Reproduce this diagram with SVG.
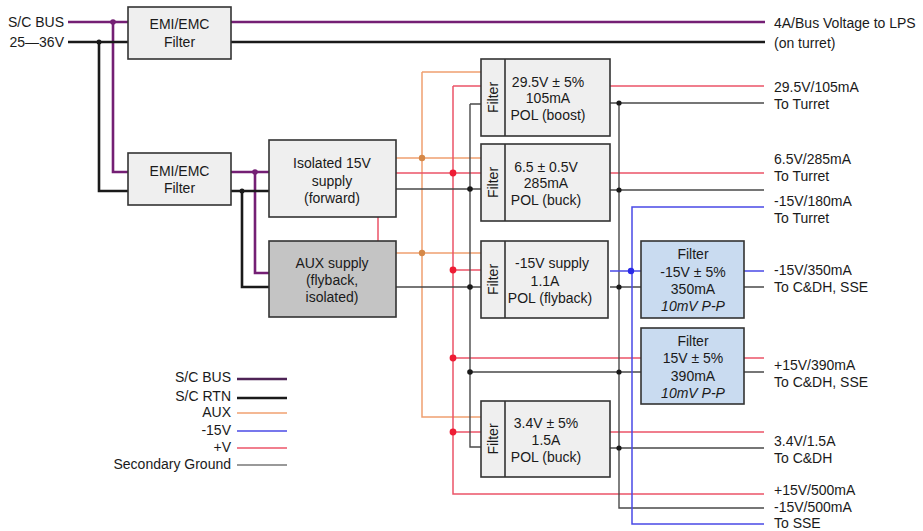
<svg xmlns="http://www.w3.org/2000/svg" width="923" height="531" viewBox="0 0 923 531">
<style>
text{font-family:"Liberation Sans",Arial,sans-serif;font-size:14px;fill:#1a1a1a}
.m{text-anchor:middle}
.e{text-anchor:end}
.it{font-style:italic}
.box{fill:#efefef;stroke:#333;stroke-width:1.6}
.aux{fill:#c4c4c4;stroke:#333;stroke-width:1.6}
.blue{fill:#c9dbf0;stroke:#333;stroke-width:1.6}
.bus{stroke:#741f74;stroke-width:2.6;fill:none}
.rtn{stroke:#1a1a1a;stroke-width:2.6;fill:none}
.auxw{stroke:#f0a070;stroke-width:1.5;fill:none}
.pos{stroke:#ec5468;stroke-width:1.5;fill:none}
.neg{stroke:#4a4ae6;stroke-width:1.5;fill:none}
.gnd{stroke:#4a4a4a;stroke-width:1.4;fill:none}
.dbus{fill:#741f74}.drtn{fill:#1a1a1a}.daux{fill:#d58848}.dpos{fill:#ee1c34}.dneg{fill:#2a2ae8}
</style>
<g id="connectors">
<path class="bus" d="M68 22H128M231 22H765M113 22V172H128M231 172H269M255 172V273H269"/>
<path class="rtn" d="M68 42H128M231 42H765M99 42V191H128M231 191H269M242 191V287H269"/>
<path class="auxw" d="M396 158H481M396 253H481M422 72V417H481M422 72H481"/>
<path class="pos" d="M378 217V241M396 173H481M453 86H481M453 86V494H764M453 270H481M453 358H641M453 432H481M610 86H764M610 173H764M744 358H764M610 432H764"/>
<path class="gnd" d="M396 189H481M396 287H481M470 104H481M470 104V447H481M470 372H641M610 103H764M610 190H764M610 287H641M744 287H764M744 372H764M610 448H764M619 103V508H764"/>
<path class="neg" d="M610 271H641M744 271H764M764 207H632V524H764"/>
<circle class="dbus" cx="113" cy="22" r="2.8"/>
<circle class="dbus" cx="255" cy="172" r="2.8"/>
<circle class="drtn" cx="99" cy="42" r="2.5"/>
<circle class="drtn" cx="242" cy="191" r="2.5"/>
<circle class="daux" cx="422" cy="158" r="3.2"/>
<circle class="daux" cx="422" cy="253" r="3.2"/>
<circle class="dpos" cx="453" cy="173" r="3.4"/>
<circle class="dpos" cx="453" cy="270" r="3.4"/>
<circle class="dpos" cx="453" cy="358" r="3.4"/>
<circle class="dpos" cx="453" cy="432" r="3.4"/>
<circle class="drtn" cx="470" cy="189" r="2.8"/>
<circle class="drtn" cx="470" cy="287" r="2.8"/>
<circle class="drtn" cx="470" cy="372" r="2.8"/>
<circle class="drtn" cx="619" cy="103" r="2.6"/>
<circle class="drtn" cx="619" cy="190" r="2.6"/>
<circle class="drtn" cx="619" cy="287" r="2.6"/>
<circle class="drtn" cx="619" cy="372" r="2.6"/>
<circle class="drtn" cx="619" cy="448" r="2.6"/>
<circle class="dneg" cx="631" cy="271" r="3.2"/>
</g>
<g id="inputs">
<text class="e" x="64" y="27">S/C BUS</text>
<text class="e" x="64" y="47">25—36V</text>
</g>
<g id="emi1">
<rect class="box" x="128" y="7" width="103" height="52"/>
<text class="m" x="179.5" y="29">EMI/EMC</text>
<text class="m" x="179.5" y="47">Filter</text>
</g>
<g id="emi2">
<rect class="box" x="128" y="153" width="103" height="52"/>
<text class="m" x="179.5" y="176">EMI/EMC</text>
<text class="m" x="179.5" y="193">Filter</text>
</g>
<g id="iso15">
<rect class="box" x="269" y="140" width="127" height="77"/>
<text class="m" x="332" y="168">Isolated 15V</text>
<text class="m" x="332" y="186">supply</text>
<text class="m" x="332" y="203">(forward)</text>
</g>
<g id="auxsupply">
<rect class="aux" x="269" y="241" width="127" height="76"/>
<text class="m" x="332" y="268">AUX supply</text>
<text class="m" x="332" y="285">(flyback,</text>
<text class="m" x="332" y="302">isolated)</text>
</g>
<g id="pol1">
<rect class="box" x="481" y="59" width="129" height="77"/>
<line x1="505" y1="59" x2="505" y2="136" stroke="#333" stroke-width="1.6"/>
<text class="m" transform="translate(498,97.5) rotate(-90)">Filter</text>
<text class="m" x="548" y="87">29.5V ± 5%</text>
<text class="m" x="548" y="103">105mA</text>
<text class="m" x="548" y="120">POL (boost)</text>
</g>
<g id="pol2">
<rect class="box" x="481" y="144" width="129" height="77"/>
<line x1="505" y1="144" x2="505" y2="221" stroke="#333" stroke-width="1.6"/>
<text class="m" transform="translate(498,182.5) rotate(-90)">Filter</text>
<text class="m" x="546" y="172">6.5 ± 0.5V</text>
<text class="m" x="546" y="188">285mA</text>
<text class="m" x="546" y="205">POL (buck)</text>
</g>
<g id="pol3">
<rect class="box" x="481" y="241" width="127" height="77"/>
<line x1="505" y1="241" x2="505" y2="318" stroke="#333" stroke-width="1.6"/>
<text class="m" transform="translate(498,279.5) rotate(-90)">Filter</text>
<text class="m" x="552" y="268">-15V supply</text>
<text class="m" x="545" y="286">1.1A</text>
<text class="m" x="550" y="303">POL (flyback)</text>
</g>
<g id="pol4">
<rect class="box" x="481" y="401" width="129" height="76"/>
<line x1="505" y1="401" x2="505" y2="477" stroke="#333" stroke-width="1.6"/>
<text class="m" transform="translate(498,439) rotate(-90)">Filter</text>
<text class="m" x="546" y="428">3.4V ± 5%</text>
<text class="m" x="546" y="445">1.5A</text>
<text class="m" x="546" y="462">POL (buck)</text>
</g>
<g id="filter1">
<rect class="blue" x="641" y="241" width="103" height="77"/>
<text class="m" x="693" y="259">Filter</text>
<text class="m" x="693" y="277">-15V ± 5%</text>
<text class="m" x="693" y="294">350mA</text>
<text class="m it" x="693" y="311">10mV P-P</text>
</g>
<g id="filter2">
<rect class="blue" x="641" y="328" width="103" height="76"/>
<text class="m" x="693" y="346">Filter</text>
<text class="m" x="693" y="363">15V ± 5%</text>
<text class="m" x="693" y="381">390mA</text>
<text class="m it" x="693" y="398">10mV P-P</text>
</g>
<g id="outputs">
<text x="774" y="28">4A/Bus Voltage to LPS</text>
<text x="774" y="48">(on turret)</text>
<text x="774" y="92">29.5V/105mA</text>
<text x="774" y="109">To Turret</text>
<text x="774" y="164">6.5V/285mA</text>
<text x="774" y="181">To Turret</text>
<text x="774" y="206">-15V/180mA</text>
<text x="774" y="223">To Turret</text>
<text x="774" y="275">-15V/350mA</text>
<text x="774" y="292">To C&amp;DH, SSE</text>
<text x="774" y="370">+15V/390mA</text>
<text x="774" y="387">To C&amp;DH, SSE</text>
<text x="774" y="446">3.4V/1.5A</text>
<text x="774" y="463">To C&amp;DH</text>
<text x="774" y="495">+15V/500mA</text>
<text x="774" y="512">-15V/500mA</text>
<text x="774" y="528">To SSE</text>
</g>
<g id="legend">
<text class="e" x="231" y="382">S/C BUS</text>
<line class="bus" x1="237" y1="379" x2="287" y2="379" style="stroke:#4e2356"/>
<text class="e" x="231" y="401">S/C RTN</text>
<line class="rtn" x1="237" y1="398" x2="287" y2="398"/>
<text class="e" x="231" y="417">AUX</text>
<line class="auxw" x1="237" y1="413" x2="287" y2="413"/>
<text class="e" x="231" y="435">-15V</text>
<line class="neg" x1="237" y1="431" x2="287" y2="431"/>
<text class="e" x="231" y="452">+V</text>
<line class="pos" x1="237" y1="448" x2="287" y2="448"/>
<text class="e" x="231" y="469">Secondary Ground</text>
<line class="gnd" x1="237" y1="465" x2="287" y2="465" style="stroke:#777"/>
</g>
</svg>
